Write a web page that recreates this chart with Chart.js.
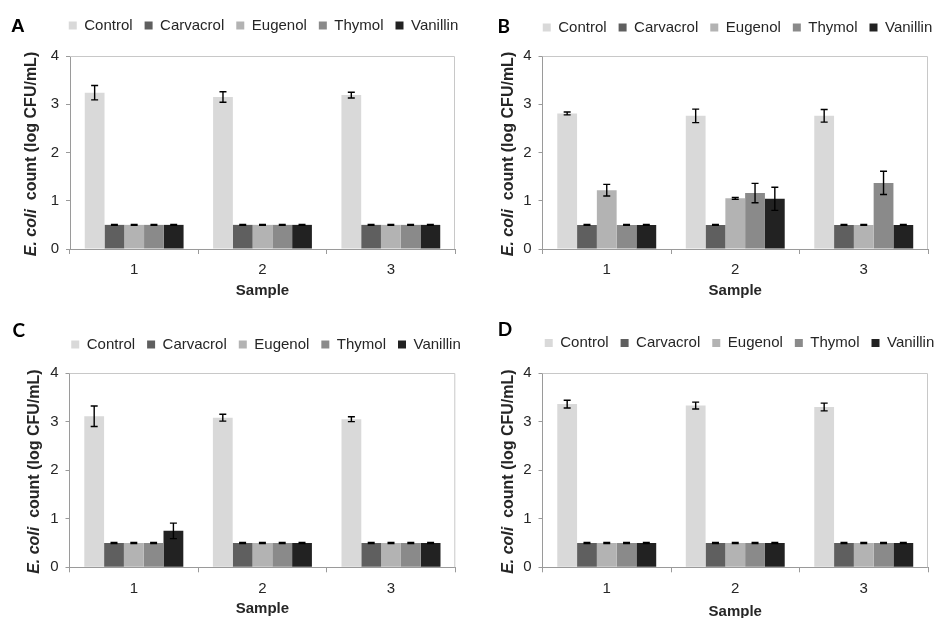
<!DOCTYPE html>
<html><head><meta charset="utf-8">
<script src="https://cdn.jsdelivr.net/npm/chart.js@4.4.0/dist/chart.umd.min.js"></script>
<style>
html,body{margin:0;padding:0;background:#fff;width:936px;height:618px;overflow:hidden;position:relative}
canvas{position:absolute}
</style></head><body>
<canvas id="cA" width="527" height="309" style="left:0;top:0"></canvas>
<canvas id="cB" width="535" height="309" style="left:470px;top:0"></canvas>
<canvas id="cC" width="532" height="309" style="left:0;top:309px"></canvas>
<canvas id="cD" width="539" height="312" style="left:470px;top:309px"></canvas>
<script>
// ---------- data ----------
const samples = ['1', '2', '3'];
const treatments = ['Control', 'Carvacrol', 'Eugenol', 'Thymol', 'Vanillin'];
const yTicks = [0, 1, 2, 3, 4];
const xTitle = 'Sample';
const yTitleItalic = 'E. coli';
const yTitleRest = '  count (log CFU/mL)';

// Panel A
const controlA   = [3.24, 3.15, 3.19];
const carvacrolA = [0.5, 0.5, 0.5];
const eugenolA   = [0.5, 0.5, 0.5];
const thymolA    = [0.5, 0.5, 0.5];
const vanillinA  = [0.5, 0.5, 0.5];
const controlAErr   = [0.15, 0.11, 0.06];
const carvacrolAErr = [0.01, 0.01, 0.01];
const eugenolAErr   = [0.01, 0.01, 0.01];
const thymolAErr    = [0.01, 0.01, 0.01];
const vanillinAErr  = [0.01, 0.01, 0.01];

// Panel B
const controlB   = [2.81, 2.76, 2.76];
const carvacrolB = [0.5, 0.5, 0.5];
const eugenolB   = [1.22, 1.05, 0.5];
const thymolB    = [0.5, 1.16, 1.37];
const vanillinB  = [0.5, 1.04, 0.5];
const controlBErr   = [0.03, 0.14, 0.13];
const carvacrolBErr = [0.01, 0.01, 0.01];
const eugenolBErr   = [0.12, 0.02, 0.01];
const thymolBErr    = [0.01, 0.20, 0.24];
const vanillinBErr  = [0.01, 0.24, 0.01];

// Panel C
const controlC   = [3.11, 3.08, 3.05];
const carvacrolC = [0.5, 0.5, 0.5];
const eugenolC   = [0.5, 0.5, 0.5];
const thymolC    = [0.5, 0.5, 0.5];
const vanillinC  = [0.75, 0.5, 0.5];
const controlCErr   = [0.21, 0.07, 0.05];
const carvacrolCErr = [0.01, 0.01, 0.01];
const eugenolCErr   = [0.01, 0.01, 0.01];
const thymolCErr    = [0.01, 0.01, 0.01];
const vanillinCErr  = [0.16, 0.01, 0.01];

// Panel D
const controlD   = [3.36, 3.33, 3.30];
const carvacrolD = [0.5, 0.5, 0.5];
const eugenolD   = [0.5, 0.5, 0.5];
const thymolD    = [0.5, 0.5, 0.5];
const vanillinD  = [0.5, 0.5, 0.5];
const controlDErr   = [0.08, 0.07, 0.08];
const carvacrolDErr = [0.01, 0.01, 0.01];
const eugenolDErr   = [0.01, 0.01, 0.01];
const thymolDErr    = [0.01, 0.01, 0.01];
const vanillinDErr  = [0.01, 0.01, 0.01];

// ---------- styles ----------
const colors = ['#d9d9d9', '#5f5f5f', '#b3b3b3', '#8a8a8a', '#222222'];
const FONT = "'Liberation Sans', Arial, sans-serif";
const TXT = '#262626';
const AXIS = '#9a9a9a';
const FRAME = '#c8c8c8';

const errorBars = {
  id: 'errorBars',
  afterDatasetsDraw(chart) {
    const ctx = chart.ctx, ys = chart.scales.y;
    ctx.save();
    ctx.strokeStyle = '#000';
    ctx.lineWidth = 1.4;
    chart.data.datasets.forEach((ds, i) => {
      const meta = chart.getDatasetMeta(i);
      meta.data.forEach((bar, j) => {
        const v = ds.data[j], e = ds.errors[j];
        const x = bar.x;
        const yT = ys.getPixelForValue(v + e), yB = ys.getPixelForValue(v - e);
        ctx.beginPath();
        ctx.moveTo(x, yT); ctx.lineTo(x, yB);
        ctx.moveTo(x - 3.5, yT); ctx.lineTo(x + 3.5, yT);
        ctx.moveTo(x - 3.5, yB); ctx.lineTo(x + 3.5, yB);
        ctx.stroke();
      });
    });
    ctx.restore();
  }
};

function decoPlugin(P) {
  return {
    id: 'deco' + P.letter,
    beforeDatasetsDraw(chart) {
      const a = chart.chartArea, ctx = chart.ctx;
      ctx.save();
      ctx.strokeStyle = FRAME; ctx.lineWidth = 1;
      ctx.beginPath();
      ctx.moveTo(a.left, a.top + 0.5); ctx.lineTo(a.right - 0.5, a.top + 0.5); ctx.lineTo(a.right - 0.5, a.bottom);
      ctx.stroke();
      ctx.restore();
    },
    afterDraw(chart) {
      const a = chart.chartArea, ctx = chart.ctx;
      ctx.save();
      // panel letter
      ctx.fillStyle = '#000';
      ctx.font = P.letterFont;
      ctx.textBaseline = 'alphabetic';
      ctx.textAlign = 'left';
      ctx.fillText(P.letter, P.lx, P.ly);
      // y-axis title with italic species name
      const f1 = "italic bold 16px " + FONT, f2 = "bold 16px " + FONT;
      ctx.font = f1; const w1 = ctx.measureText(yTitleItalic).width;
      ctx.font = f2; const w2 = ctx.measureText(yTitleRest).width;
      const cx = a.left - P.titleOff, cy = (a.top + a.bottom) / 2 + 1.5;
      ctx.translate(cx, cy); ctx.rotate(-Math.PI / 2);
      ctx.fillStyle = TXT; ctx.textBaseline = 'middle';
      const x0 = -(w1 + w2) / 2;
      ctx.font = f1; ctx.fillText(yTitleItalic, x0, 0);
      ctx.font = f2; ctx.fillText(yTitleRest, x0 + w1, 0);
      ctx.restore();
    }
  };
}

function makePanel(canvasId, series, errs, L, P) {
  const datasets = treatments.map((name, i) => ({
    label: name,
    data: series[i],
    errors: errs[i],
    backgroundColor: colors[i],
    borderWidth: 0,
    barPercentage: 1.0,
    categoryPercentage: 0.77
  }));
  return new Chart(document.getElementById(canvasId), {
    type: 'bar',
    data: { labels: samples, datasets },
    options: {
      responsive: false, animation: false, events: [],
      layout: { padding: { top: L.padTop, bottom: L.padB, left: 0, right: 0 } },
      plugins: {
        legend: {
          display: true, position: 'top', fullSize: true,
          labels: { boxWidth: 8, boxHeight: 8, padding: 12, color: TXT, font: { family: FONT, size: 15 } }
        },
        tooltip: { enabled: false }
      },
      scales: {
        x: {
          type: 'category', position: 'bottom', offset: true,
          grid: { display: true, drawOnChartArea: false, drawTicks: true, tickLength: 5, color: AXIS, offset: true },
          border: { display: true, color: AXIS, width: 1 },
          ticks: { color: TXT, font: { family: FONT, size: 15 }, padding: L.tickPad },
          title: { display: true, text: xTitle, color: TXT, font: { family: FONT, size: 15, weight: 'bold' }, padding: 0 },
          afterFit: s => { s.height = L.xH; }
        },
        xTop: {
          type: 'category', position: 'top', display: true,
          grid: { display: false }, border: { display: false }, ticks: { display: false },
          afterFit: s => { s.height = L.topGap; }
        },
        y: {
          type: 'linear', position: 'left', min: yTicks[0], max: yTicks[yTicks.length - 1],
          afterBuildTicks: s => { s.ticks = yTicks.map(v => ({ value: v })); },
          grid: { display: true, drawOnChartArea: false, drawTicks: true, tickLength: 4, color: AXIS },
          border: { display: true, color: AXIS, width: 1 },
          ticks: { color: TXT, font: { family: FONT, size: 15 }, padding: 7 },
          afterFit: s => { s.width = L.yW; }
        },
        yRight: {
          type: 'linear', position: 'right', display: true,
          grid: { display: false }, border: { display: false }, ticks: { display: false },
          afterFit: s => { s.width = L.rW; }
        }
      }
    },
    plugins: [errorBars, decoPlugin(P)]
  });
}

makePanel('cA',
  [controlA, carvacrolA, eugenolA, thymolA, vanillinA],
  [controlAErr, carvacrolAErr, eugenolAErr, thymolAErr, vanillinAErr],
  { padTop: 6, padB: 9.5, topGap: 13, xH: 50.5, yW: 70, rW: 72, tickPad: 7 },
  { letter: 'A', lx: 11, ly: 32, letterFont: "bold 19px " + FONT, titleOff: 38 });

makePanel('cB',
  [controlB, carvacrolB, eugenolB, thymolB, vanillinB],
  [controlBErr, carvacrolBErr, eugenolBErr, thymolBErr, vanillinBErr],
  { padTop: 8, padB: 9.5, topGap: 11, xH: 50.5, yW: 72.5, rW: 77, tickPad: 7 },
  { letter: 'B', lx: 27.5, ly: 33, letterFont: "bold 19px Lato, " + FONT, titleOff: 33.5 });

makePanel('cC',
  [controlC, carvacrolC, eugenolC, thymolC, vanillinC],
  [controlCErr, carvacrolCErr, eugenolCErr, thymolCErr, vanillinCErr],
  { padTop: 16, padB: 0.5, topGap: 11, xH: 50.2, yW: 69.5, rW: 76.7, tickPad: 8 },
  { letter: 'C', lx: 12.5, ly: 27.5, letterFont: "bold 19px Lato, " + FONT, titleOff: 35 });

makePanel('cD',
  [controlD, carvacrolD, eugenolD, thymolD, vanillinD],
  [controlDErr, carvacrolDErr, eugenolDErr, thymolDErr, vanillinDErr],
  { padTop: 14.5, padB: 0.2, topGap: 12.5, xH: 53.5, yW: 72.5, rW: 81, tickPad: 8 },
  { letter: 'D', lx: 27.7, ly: 27, letterFont: "bold 19px Lato, " + FONT, titleOff: 34 });
</script>
</body></html>
